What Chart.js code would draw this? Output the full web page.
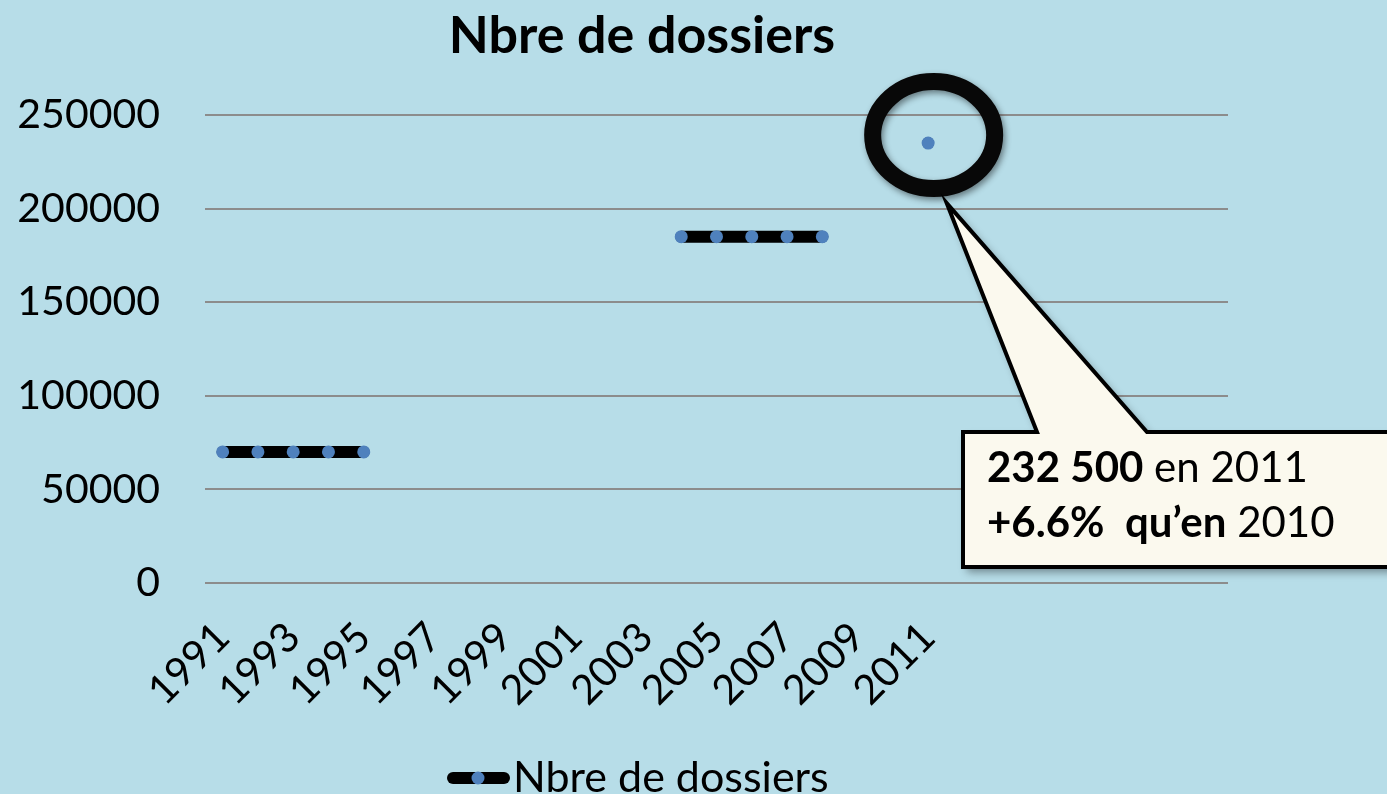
<!DOCTYPE html>
<html lang="fr">
<head>
<meta charset="UTF-8">
<title>Nbre de dossiers</title>
<style>
    * { margin: 0; padding: 0; box-sizing: border-box; }
    body { background: #b7dde8; width: 1387px; height: 794px; overflow: hidden; }
    #wrap { position: relative; width: 1387px; height: 794px; }
</style>
</head>
<body>
<div id="wrap"><canvas id="chartCanvasId" width="1387" height="794"></canvas></div>

<script src="https://cdn.jsdelivr.net/npm/chart.js@4.4.1/dist/chart.umd.min.js"></script>
<script>
"use strict";

// categories: the sheet's axis keeps going after 2011 with empty cells
const years = ["1991", "1992", "1993", "1994", "1995", "1996", "1997", "1998", "1999", "2000",
               "2001", "2002", "2003", "2004", "2005", "2006", "2007", "2008", "2009", "2010",
               "2011", "", "", "", "", "", "", "", ""]
const dossiers = [70000, 70000, 70000, 70000, 70000,
                  null, null, null, null, null, null, null, null,
                  185000, 185000, 185000, 185000, 185000,
                  null, null,
                  235000]
const yMin = 0
const yMax = 250000
const yStep = 50000
const seriesName = "Nbre de dossiers"
// callout text, [text, bold]
const calloutLine1 = [["232 500", true], [" en 2011", false]]
const calloutLine2 = [["+6.6%  qu\u2019en", true], [" 2010", false]]

const FONT = "Lato"
const BLUE = "#4f81bd"

function drawRuns(ctx, runs, x, y, size) {
    for (const [txt, bold] of runs) {
        ctx.font = (bold ? "bold " : "") + size + "px " + FONT
        ctx.fillText(txt, x, y)
        x += ctx.measureText(txt).width
    }
}

const decor = {
    id: "decor",
    afterDraw(chart) {
        const ctx = chart.ctx
        const xs = chart.scales.x, ys = chart.scales.y
        ctx.save()

        // title
        ctx.fillStyle = "#000"
        ctx.textAlign = "center"
        ctx.textBaseline = "alphabetic"
        ctx.font = "bold 52px " + FONT
        ctx.fillText(seriesName, 642, 53)

        // legend
        ctx.lineCap = "round"
        ctx.lineWidth = 12
        ctx.strokeStyle = "#000"
        ctx.beginPath()
        ctx.moveTo(453, 778)
        ctx.lineTo(504, 778)
        ctx.stroke()
        ctx.fillStyle = BLUE
        ctx.beginPath()
        ctx.arc(478, 778, 6.5, 0, Math.PI * 2)
        ctx.fill()
        ctx.fillStyle = "#000"
        ctx.textAlign = "left"
        ctx.font = "43px " + FONT
        ctx.fillText(seriesName, 513, 792)

        // ring round the 2011 point
        const last = dossiers.length - 1
        const px = xs.getPixelForValue(last)
        const py = ys.getPixelForValue(dossiers[last])
        const cx = px + 5.5, cy = py - 8
        ctx.save()
        ctx.shadowColor = "rgba(0,0,0,0.45)"
        ctx.shadowBlur = 6
        ctx.shadowOffsetX = 2
        ctx.shadowOffsetY = 3
        ctx.lineWidth = 17
        ctx.strokeStyle = "#080808"
        ctx.beginPath()
        ctx.ellipse(cx, cy, 61, 53.5, 0, 0, Math.PI * 2)
        ctx.stroke()
        ctx.restore()

        // speech bubble
        const bx = 963, by = 432, bb = 567, br = 1400
        const apexX = cx + 13, apexY = cy + 68
        ctx.save()
        ctx.beginPath()
        ctx.moveTo(bx, by)
        ctx.lineTo(1037, by)
        ctx.lineTo(apexX, apexY)
        ctx.lineTo(1147, by)
        ctx.lineTo(br, by)
        ctx.lineTo(br, bb)
        ctx.lineTo(bx, bb)
        ctx.closePath()
        ctx.shadowColor = "rgba(0,0,0,0.4)"
        ctx.shadowBlur = 8
        ctx.shadowOffsetX = 4
        ctx.shadowOffsetY = 5
        ctx.fillStyle = "#fbf9ee"
        ctx.fill()
        ctx.shadowColor = "transparent"
        ctx.lineJoin = "miter"
        ctx.lineWidth = 4
        ctx.strokeStyle = "#000"
        ctx.stroke()
        ctx.restore()

        ctx.fillStyle = "#000"
        ctx.textAlign = "left"
        drawRuns(ctx, calloutLine1, 987, 482, 42)
        drawRuns(ctx, calloutLine2, 987, 537, 42)

        ctx.restore()
    }
}

const chartCanvas = document.getElementById("chartCanvasId")
const myChart = new Chart(chartCanvas.getContext("2d"), {
    type: "line",
    data: {
        labels: years,
        datasets: [{
            label: seriesName,
            data: dossiers,
            borderColor: "#000",
            borderWidth: 12,
            borderCapStyle: "round",
            spanGaps: false,
            pointRadius: 6.5,
            pointBackgroundColor: BLUE,
            pointBorderWidth: 0,
            tension: 0
        }]
    },
    options: {
        responsive: false,
        animation: false,
        layout: { padding: { left: 0, top: 115, right: 159, bottom: 0 } },
        plugins: {
            legend: { display: false },
            title: { display: false },
            tooltip: { enabled: false }
        },
        scales: {
            x: {
                offset: true,
                grid: { display: false },
                border: { display: false },
                ticks: {
                    autoSkip: false,
                    minRotation: 45,
                    maxRotation: 45,
                    padding: 22,
                    color: "#000",
                    font: { family: FONT, size: 41 },
                    callback: (v, i) => (i % 2 === 0 ? years[i] : "")
                },
                afterFit: (s) => { s.height = 211 }
            },
            y: {
                min: yMin,
                max: yMax,
                grid: { color: "#8c8c8c", lineWidth: 2, drawTicks: false },
                border: { display: false },
                ticks: {
                    stepSize: yStep,
                    padding: 45,
                    color: "#000",
                    font: { family: FONT, size: 41 },
                    callback: (v) => String(v)
                },
                afterFit: (s) => { s.width = 205 }
            }
        }
    },
    plugins: [decor]
})
</script>
</body>
</html>
